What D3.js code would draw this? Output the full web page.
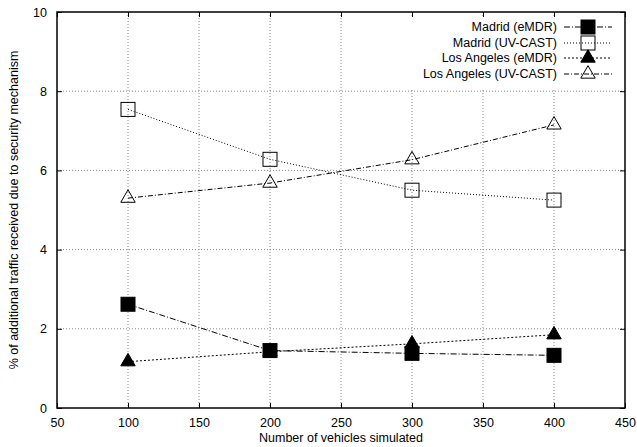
<!DOCTYPE html>
<html>
<head>
<meta charset="utf-8">
<script src="https://cdn.jsdelivr.net/npm/d3@7"></script>
<style>
  body { margin: 0; background: #fff; }
</style>
</head>
<body>
<div id="chart"></div>
<script>
const vehicles = [100, 200, 300, 400];
const madridEmdr = [2.62, 1.45, 1.38, 1.33];
const madridUvcast = [7.54, 6.28, 5.5, 5.25];
const laEmdr = [1.17, 1.42, 1.62, 1.85];
const laUvcast = [5.3, 5.68, 6.27, 7.15];
const xTicks = [50, 100, 150, 200, 250, 300, 350, 400, 450];
const yTicks = [0, 2, 4, 6, 8, 10];

const series = [
  { name: "Madrid (eMDR)", values: madridEmdr, marker: "square", filled: true, dash: "6,2,1,2" },
  { name: "Madrid (UV-CAST)", values: madridUvcast, marker: "square", filled: false, dash: "1,2" },
  { name: "Los Angeles (eMDR)", values: laEmdr, marker: "triangle", filled: true, dash: "2,2" },
  { name: "Los Angeles (UV-CAST)", values: laUvcast, marker: "triangle", filled: false, dash: "5,2,1,2" }
];

const width = 637;
const height = 447;
const marginTop = 12;
const marginRight = 12;
const marginBottom = 39;
const marginLeft = 57;
const font = "12.5px 'Liberation Sans', Arial, sans-serif";

const x = d3.scaleLinear()
  .domain([50, 450])
  .range([marginLeft, width - marginRight]);

const y = d3.scaleLinear()
  .domain([0, 10])
  .range([height - marginBottom, marginTop]);

const svg = d3.select("#chart")
  .append("svg")
  .attr("width", width)
  .attr("height", height)
  .attr("viewBox", [0, 0, width, height])
  .attr("style", `font: ${font};`);

// grid
svg.append("g")
  .selectAll("line")
  .data(xTicks.slice(1, -1))
  .join("line")
  .attr("x1", d => x(d)).attr("x2", d => x(d))
  .attr("y1", y(10)).attr("y2", y(0))
  .attr("stroke", "#888")
  .attr("stroke-width", 1)
  .attr("stroke-dasharray", "1,2");

svg.append("g")
  .selectAll("line")
  .data(yTicks.slice(1, -1))
  .join("line")
  .attr("x1", x(50)).attr("x2", x(450))
  .attr("y1", d => y(d)).attr("y2", d => y(d))
  .attr("stroke", "#888")
  .attr("stroke-width", 1)
  .attr("stroke-dasharray", "1,2");

// axes with inward ticks, mirrored
svg.append("g")
  .attr("transform", `translate(0,${height - marginBottom})`)
  .call(d3.axisBottom(x).tickValues(xTicks).tickSize(-5).tickPadding(10))
  .call(g => g.select(".domain").remove());

svg.append("g")
  .attr("transform", `translate(0,${marginTop})`)
  .call(d3.axisTop(x).tickValues(xTicks).tickSize(-5).tickFormat(""))
  .call(g => g.select(".domain").remove());

svg.append("g")
  .attr("transform", `translate(${marginLeft},0)`)
  .call(d3.axisLeft(y).tickValues(yTicks).tickSize(-5).tickPadding(10))
  .call(g => g.select(".domain").remove());

svg.append("g")
  .attr("transform", `translate(${width - marginRight},0)`)
  .call(d3.axisRight(y).tickValues(yTicks).tickSize(-5).tickFormat(""))
  .call(g => g.select(".domain").remove());

svg.selectAll(".tick text")
  .attr("fill", "#000")
  .style("font", font);

// frame
svg.append("rect")
  .attr("x", x(50)).attr("y", y(10))
  .attr("width", x(450) - x(50))
  .attr("height", y(0) - y(10))
  .attr("fill", "none")
  .attr("stroke", "#000")
  .attr("stroke-width", 1.5);

// legend background (hides grid)
svg.append("rect")
  .attr("x", 370).attr("y", y(10) + 6)
  .attr("width", x(450) - 371.5)
  .attr("height", 72)
  .attr("fill", "#fff");

function drawMarker(g, s, cx, cy) {
  if (s.marker === "square") {
    g.append("rect")
      .attr("x", cx - 7).attr("y", cy - 7)
      .attr("width", 14).attr("height", 14)
      .attr("fill", s.filled ? "#000" : "#fff")
      .attr("fill-opacity", s.filled ? 1 : 0)
      .attr("stroke", "#000")
      .attr("stroke-width", 1);
  } else {
    const tri = d3.symbol().type(d3.symbolTriangle).size(90);
    g.append("path")
      .attr("d", tri)
      .attr("transform", `translate(${cx},${cy})`)
      .attr("fill", s.filled ? "#000" : "#fff")
      .attr("fill-opacity", s.filled ? 1 : 0)
      .attr("stroke", "#000")
      .attr("stroke-width", 1);
  }
}

const line = d3.line()
  .x((d, i) => x(vehicles[i]))
  .y(d => y(d));

series.forEach(s => {
  svg.append("path")
    .datum(s.values)
    .attr("fill", "none")
    .attr("stroke", "#000")
    .attr("stroke-width", 1)
    .attr("stroke-dasharray", s.dash)
    .attr("d", line);
  const g = svg.append("g");
  s.values.forEach((v, i) => drawMarker(g, s, x(vehicles[i]), y(v)));
});

// legend
const legendY = [27, 43, 58, 74];
series.forEach((s, i) => {
  const ly = legendY[i];
  svg.append("text")
    .attr("x", 557).attr("y", ly)
    .attr("dy", "0.35em")
    .attr("text-anchor", "end")
    .attr("fill", "#000")
    .text(s.name);
  svg.append("line")
    .attr("x1", 564).attr("x2", 612)
    .attr("y1", ly).attr("y2", ly)
    .attr("stroke", "#000")
    .attr("stroke-width", 1)
    .attr("stroke-dasharray", s.dash);
  const g = svg.append("g");
  drawMarker(g, s, 588, ly);
});

// axis titles
svg.append("text")
  .attr("x", (x(50) + x(450)) / 2)
  .attr("y", 442)
  .attr("text-anchor", "middle")
  .attr("fill", "#000")
  .text("Number of vehicles simulated");

svg.append("text")
  .attr("transform", `translate(18,${(y(0) + y(10)) / 2}) rotate(-90)`)
  .attr("text-anchor", "middle")
  .attr("fill", "#000")
  .text("% of additional traffic received due to security mechanism");
</script>
</body>
</html>
